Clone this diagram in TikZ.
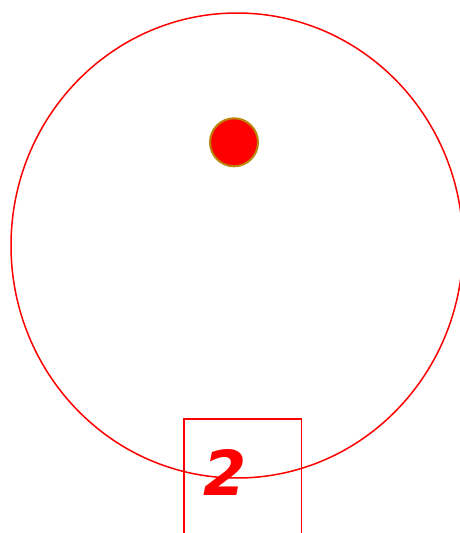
\documentclass[tikz,border=0pt]{standalone}
\usepackage{fontspec}
\setmainfont{DejaVu Sans}
\definecolor{dotedge}{HTML}{B8860B}
\tikzset{
  outline/.style={draw=red, line width=1.5pt},
  dot/.style={circle, fill=red, draw=dotedge, line width=2pt, minimum size=48pt, inner sep=0pt},
  numlabel/.style={text=red, font=\fontsize{62}{62}\selectfont\bfseries\itshape, inner sep=0pt}
}
\begin{document}
\begin{tikzpicture}[x=1pt,y=-1pt]
\useasboundingbox (0,0) rectangle (460,533);
\clip (0,0) rectangle (460,533);
\draw[outline] (237,245.5) ellipse [x radius=226, y radius=232.5];
\node[dot] (d) at (234,142.3) {};
\draw[outline] (184,540) -- (184,419) -- (301.7,419) -- (301.7,540);
\node[numlabel] (n) at (225,472.5) {2};
\end{tikzpicture}
\end{document}
